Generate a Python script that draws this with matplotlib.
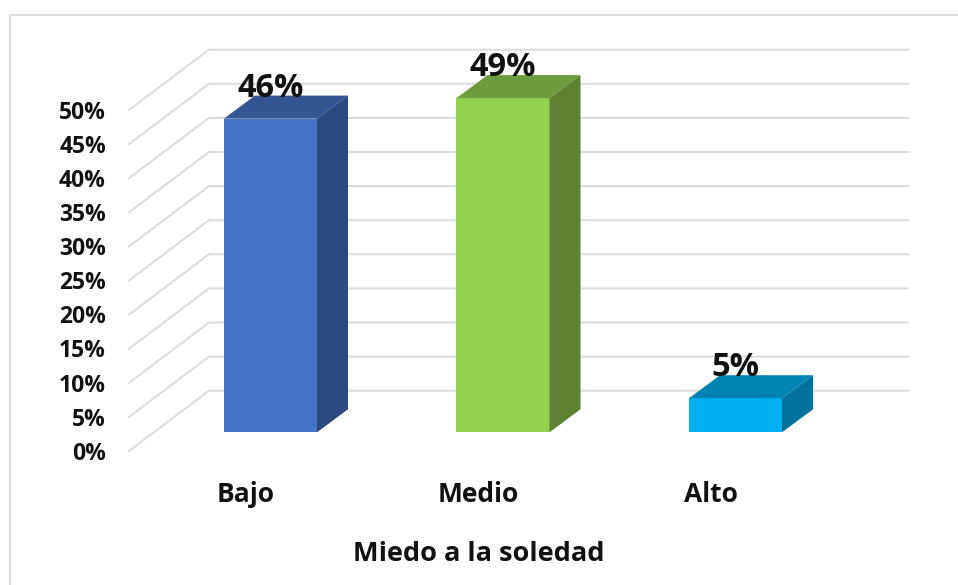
import matplotlib
matplotlib.use("Agg")
import matplotlib.pyplot as plt
from matplotlib.patches import Polygon

categories = ["Bajo", "Medio", "Alto"]
values = [46, 49, 5]
y_ticks = [0, 5, 10, 15, 20, 25, 30, 35, 40, 45, 50]
x_title = "Miedo a la soledad"

front_colors = ["#4472C4", "#92D050", "#00B0F0"]
top_colors = ["#335593", "#6D9C3C", "#0084B4"]
side_colors = ["#2B4A80", "#5E8233", "#00729C"]

W, H = 958, 585
# px per data unit, bar plane sits at x0/y0
PX_X = 232.5
PX_Y = 6.82
X0 = 270.5
Y0 = 432.3

BAR_W = 93 / PX_X
BAR_DX = 31 / PX_X
BAR_DY = 23 / PX_Y

WALL_FRONT_X = (129 - X0) / PX_X
WALL_FRONT_DY = (432.3 - 451) / PX_Y
WALL_BACK_X = (209 - X0) / PX_X
WALL_BACK_DY = (432.3 - 390.7) / PX_Y
WALL_END_X = (908 - X0) / PX_X

plt.rcParams["font.family"] = ["Open Sans", "DejaVu Sans"]

fig = plt.figure(figsize=(W / 100, H / 100), dpi=100, facecolor="white")
ax = fig.add_axes([0, 0, 1, 1])
ax.set_xlim(-X0 / PX_X, (W - X0) / PX_X)
ax.set_ylim((Y0 - H) / PX_Y, Y0 / PX_Y)
ax.axis("off")

# outer chart frame
frame_x = [(10 - X0) / PX_X, (10 - X0) / PX_X, (W - X0) / PX_X]
frame_y = [(Y0 - H) / PX_Y, (Y0 - 14.5) / PX_Y, (Y0 - 14.5) / PX_Y]
ax.plot(frame_x, frame_y, color="#DCDCDC", lw=1.6, solid_joinstyle="miter")

# walls + tick labels
for t in y_ticks:
    ax.plot([WALL_FRONT_X, WALL_BACK_X, WALL_END_X],
            [t + WALL_FRONT_DY, t + WALL_BACK_DY, t + WALL_BACK_DY],
            color="#DCDCDC", lw=1.4, solid_joinstyle="miter", zorder=1)
    ax.text((106 - X0) / PX_X, t + WALL_FRONT_DY - 0.4, f"{t}%", ha="right", va="center",
            fontsize=16.5, fontweight="bold", color="#111111")

# 3d bars
for i, (v, name) in enumerate(zip(values, categories)):
    l = i - BAR_W / 2
    r = i + BAR_W / 2
    ax.add_patch(Polygon([(l, 0), (r, 0), (r, v), (l, v)], fc=front_colors[i], ec="none", zorder=3))
    ax.add_patch(Polygon([(l, v), (r, v), (r + BAR_DX, v + BAR_DY), (l + BAR_DX, v + BAR_DY)],
                         fc=top_colors[i], ec="none", zorder=3))
    ax.add_patch(Polygon([(r, 0), (r + BAR_DX, BAR_DY), (r + BAR_DX, v + BAR_DY), (r, v)],
                         fc=side_colors[i], ec="none", zorder=3))
    ax.text(i, v + BAR_DY + 1.1, f"{v}%", ha="center", va="center",
            fontsize=23.5, fontweight="bold", color="#111111", zorder=4)
    ax.text(i - 24.5 / PX_X, (Y0 - 495) / PX_Y, name, ha="center", va="center",
            fontsize=19, fontweight="bold", color="#111111")

ax.text((479 - X0) / PX_X, (Y0 - 554) / PX_Y, x_title, ha="center", va="center",
        fontsize=19.5, fontweight="bold", color="#111111")

fig.savefig("out.png", dpi=100)
